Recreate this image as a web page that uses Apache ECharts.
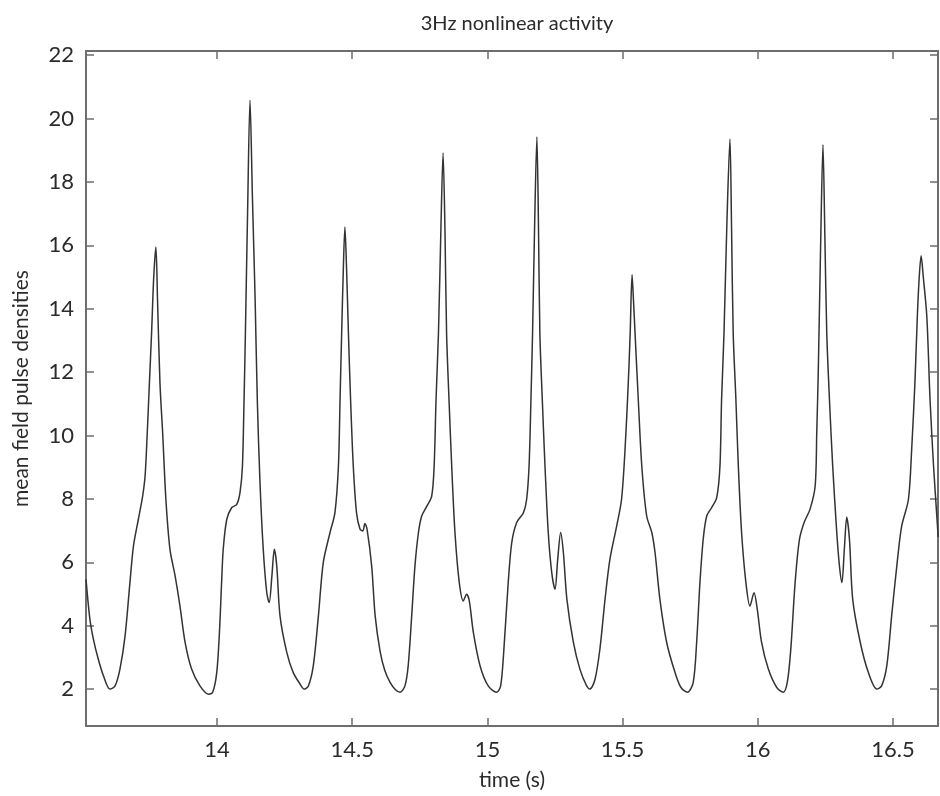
<!DOCTYPE html>
<html>
<head>
<meta charset="utf-8">
<title>3Hz nonlinear activity</title>
<script src="https://cdn.jsdelivr.net/npm/echarts@6/dist/echarts.min.js"></script>
<style>
  html, body { margin: 0; padding: 0; background: #fff; }
  #chart { width: 940px; height: 796px; }
</style>
</head>
<body>
<div id="chart"></div>
<script>
// values
const timeS = [
  13.5155, 13.530, 13.543, 13.561, 13.580, 13.604, 13.623, 13.641, 13.660, 13.678,
  13.691, 13.709, 13.725, 13.734, 13.742, 13.750, 13.758, 13.766, 13.774, 13.780,
  13.789, 13.799, 13.811, 13.826, 13.845, 13.863, 13.882, 13.906, 13.937, 13.968,
  13.984, 13.999, 14.009, 14.017, 14.023, 14.036, 14.054, 14.073, 14.085, 14.094,
  14.100, 14.105, 14.113, 14.122, 14.131, 14.141, 14.149, 14.159, 14.171, 14.184,
  14.193, 14.203, 14.212, 14.221, 14.233, 14.258, 14.282, 14.307, 14.322, 14.338,
  14.356, 14.375, 14.393, 14.418, 14.436, 14.449, 14.455, 14.461, 14.467, 14.473,
  14.479, 14.486, 14.494, 14.504, 14.516, 14.529, 14.539, 14.547, 14.555, 14.572,
  14.585, 14.603, 14.620, 14.640, 14.660, 14.677, 14.695, 14.707, 14.720, 14.732,
  14.745, 14.757, 14.776, 14.794, 14.803, 14.810, 14.819, 14.828, 14.836, 14.843,
  14.849, 14.858, 14.868, 14.880, 14.896, 14.911, 14.923, 14.933, 14.948, 14.973,
  15.003, 15.034, 15.049, 15.061, 15.077, 15.090, 15.108, 15.133, 15.145, 15.154,
  15.161, 15.167, 15.175, 15.183, 15.189, 15.194, 15.203, 15.213, 15.225, 15.238,
  15.250, 15.260, 15.271, 15.281, 15.294, 15.318, 15.342, 15.367, 15.379, 15.398,
  15.416, 15.435, 15.453, 15.478, 15.496, 15.509, 15.521, 15.528, 15.535, 15.540,
  15.546, 15.558, 15.571, 15.589, 15.608, 15.620, 15.638, 15.663, 15.694, 15.716,
  15.740, 15.761, 15.774, 15.786, 15.798, 15.811, 15.829, 15.848, 15.860, 15.866,
  15.875, 15.886, 15.897, 15.903, 15.909, 15.919, 15.928, 15.940, 15.956, 15.971,
  15.986, 15.998, 16.014, 16.039, 16.070, 16.094, 16.109, 16.122, 16.138, 16.154,
  16.171, 16.193, 16.212, 16.218, 16.224, 16.233, 16.241, 16.248, 16.255, 16.265,
  16.277, 16.292, 16.302, 16.311, 16.320, 16.329, 16.339, 16.351, 16.379, 16.409,
  16.440, 16.458, 16.477, 16.495, 16.514, 16.532, 16.557, 16.569, 16.581, 16.590,
  16.597, 16.604, 16.612, 16.625, 16.637, 16.650, 16.662, 16.667
];
const pulseDensity = [
  5.46, 4.20, 3.57, 2.94, 2.42, 2.00, 2.10, 2.63, 3.68, 5.36,
  6.51, 7.35, 8.09, 8.72, 10.08, 11.66, 13.23, 15.00, 15.95, 14.28,
  11.66, 10.08, 7.98, 6.41, 5.57, 4.62, 3.47, 2.63, 2.10, 1.84,
  1.90, 2.52, 3.79, 5.36, 6.41, 7.35, 7.72, 7.83, 8.20, 9.03,
  11.13, 13.23, 17.00, 20.58, 17.50, 14.28, 11.13, 8.51, 6.41, 5.04,
  4.73, 5.57, 6.41, 5.88, 4.31, 3.16, 2.52, 2.16, 2.00, 2.10,
  2.73, 4.31, 5.99, 6.94, 7.56, 9.03, 11.13, 13.23, 15.20, 16.58,
  15.30, 13.23, 11.13, 9.03, 7.56, 7.04, 6.99, 7.22, 7.04, 5.88,
  4.30, 3.20, 2.60, 2.21, 1.98, 1.90, 2.10, 2.73, 4.31, 5.88,
  6.94, 7.46, 7.77, 8.09, 9.03, 11.13, 13.23, 16.50, 18.91, 16.50,
  13.23, 11.13, 9.03, 6.94, 5.36, 4.78, 4.99, 4.78, 3.79, 2.73,
  2.10, 1.90, 2.10, 3.26, 5.36, 6.62, 7.25, 7.56, 7.98, 9.03,
  11.13, 13.23, 16.80, 19.42, 16.50, 13.23, 11.13, 9.03, 6.94, 5.67,
  5.15, 6.09, 6.94, 6.30, 4.83, 3.47, 2.63, 2.10, 2.00, 2.31,
  3.26, 4.83, 6.09, 7.14, 7.98, 9.56, 11.66, 13.23, 15.07, 14.30,
  13.23, 11.13, 9.03, 7.46, 6.94, 6.30, 4.83, 3.47, 2.52, 2.05,
  1.90, 2.20, 3.50, 5.36, 6.72, 7.46, 7.72, 8.04, 9.03, 11.13,
  13.23, 16.80, 19.35, 16.50, 13.23, 11.13, 9.03, 6.94, 5.36, 4.62,
  5.04, 4.52, 3.47, 2.63, 2.05, 1.90, 2.21, 3.26, 5.36, 6.72,
  7.25, 7.67, 8.40, 10.08, 12.18, 16.30, 19.17, 16.30, 13.23, 11.13,
  9.03, 6.94, 5.88, 5.36, 6.41, 7.42, 6.72, 4.83, 3.47, 2.52,
  2.00, 2.10, 2.73, 4.31, 5.88, 7.14, 7.98, 9.56, 11.66, 13.76,
  15.00, 15.67, 15.00, 13.76, 11.13, 9.03, 7.46, 6.80
];
const xTicks = [14, 14.5, 15, 15.5, 16, 16.5];
const yTicks = [2, 4, 6, 8, 10, 12, 14, 16, 18, 20, 22];

const xMin = 13.5155, xMax = 16.6664;
const yMin = 0.835, yMax = 22.13;

const axisColor = '#6e6e6e';
const textColor = '#2b2b2b';
const fontFamily = 'Lato, "Open Sans", sans-serif';

const chart = echarts.init(document.getElementById('chart'));

function boxAxis(min, max, ticks, position, showLabels, extra) {
  return Object.assign({
    type: 'value',
    min: min,
    max: max,
    position: position,
    axisLine: { show: true, onZero: false, lineStyle: { color: axisColor, width: 2 } },
    axisTick: {
      show: true,
      inside: true,
      length: 8,
      customValues: ticks,
      lineStyle: { color: axisColor, width: 1.5 }
    },
    axisLabel: {
      show: showLabels,
      customValues: ticks,
      color: textColor,
      fontSize: 22,
      fontFamily: fontFamily
    },
    splitLine: { show: false }
  }, extra || {});
}

const xBottom = boxAxis(xMin, xMax, xTicks, 'bottom', true, {
  name: 'time (s)',
  nameLocation: 'middle',
  nameGap: 44,
  nameTextStyle: { color: textColor, fontSize: 21, fontFamily: fontFamily }
});
xBottom.axisLabel.margin = 13;

const yLeft = boxAxis(yMin, yMax, yTicks, 'left', true, {
  name: 'mean field pulse densities',
  nameLocation: 'middle',
  nameGap: 54,
  nameTextStyle: { color: textColor, fontSize: 21, fontFamily: fontFamily }
});
yLeft.axisLabel.margin = 12;

const option = {
  backgroundColor: '#fff',
  animation: false,
  title: {
    text: '3Hz nonlinear activity',
    left: 512,
    top: 9,
    textAlign: 'center',
    textStyle: { color: textColor, fontSize: 20, fontWeight: 'normal', fontFamily: fontFamily }
  },
  grid: { left: 86, right: 2, top: 51, bottom: 69, containLabel: false },
  xAxis: [xBottom, boxAxis(xMin, xMax, xTicks, 'top', false)],
  yAxis: [yLeft, boxAxis(yMin, yMax, yTicks, 'right', false)],
  series: [
    {
      type: 'line',
      xAxisIndex: 0,
      yAxisIndex: 0,
      showSymbol: false,
      smooth: 0.3,
      lineStyle: { color: '#333', width: 1.5 },
      data: timeS.map((t, i) => [t, pulseDensity[i]])
    }
  ]
};

chart.setOption(option);
</script>
</body>
</html>
